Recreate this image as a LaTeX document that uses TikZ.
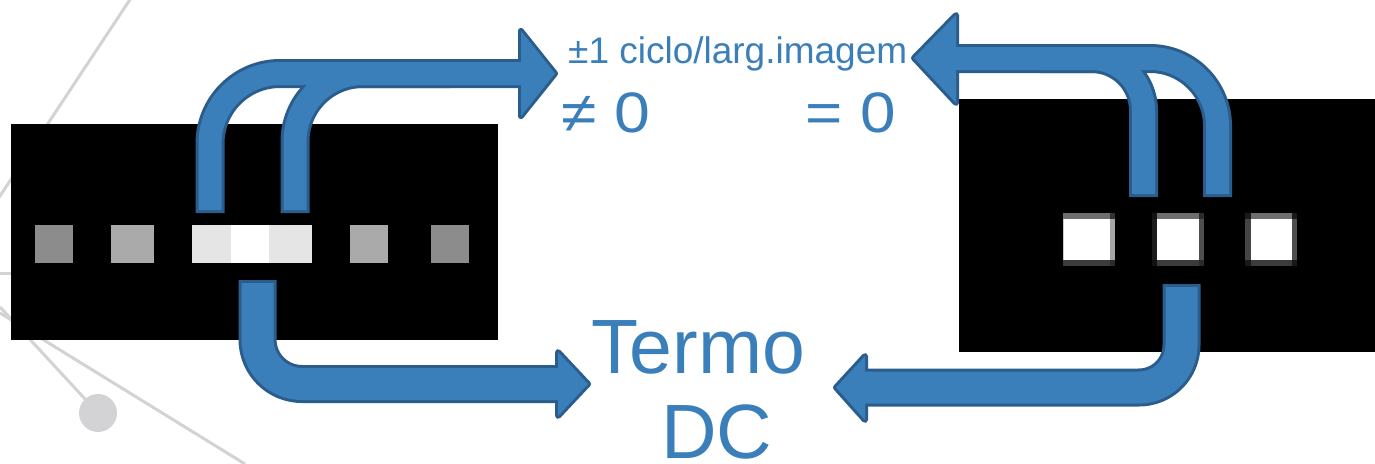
\documentclass[tikz,border=0pt]{standalone}
\usepackage{graphicx}
\usepackage{fontspec}
\setmainfont{Liberation Sans}
\definecolor{arrowfill}{HTML}{3A7EBA}
\definecolor{arrowline}{HTML}{2A5D8B}
\definecolor{deco}{HTML}{D3D3D5}
\definecolor{txtblue}{HTML}{3B7FBA}
\definecolor{gA}{HTML}{8C8C8C}
\definecolor{gB}{HTML}{AAAAAA}
\definecolor{gC}{HTML}{E5E5E5}
\tikzset{
  arrowedge/.style={draw=arrowline, line cap=butt, line join=round},
  arrowbody/.style={draw=arrowfill, line cap=butt, line join=round},
  decoline/.style={draw=deco, line width=3},
  lbl/.style={text=txtblue, inner sep=0pt, anchor=base west},
}
\begin{document}
\begin{tikzpicture}[x=1pt,y=-1pt]
\useasboundingbox (0,0) rectangle (1375,463);
\fill[white] (0,0) rectangle (1375,463);

% network decoration on the left
\draw[decoline] (131,-2) -- (-2,199);
\draw[decoline] (-2,273) -- (12,273);
\draw[decoline] (0,307) -- (98,413);
\draw[decoline] (0,313) -- (245,464);
\fill[deco] (98,413) circle[radius=19];

% left picture: row of grey squares
\fill[black] (11,124) rectangle (498,340);
\fill[gA] (35,225) rectangle (73,263);
\fill[gB] (111,225) rectangle (154,263);
\fill[gC] (192,225) rectangle (231,263);
\fill[white] (231,225) rectangle (269,263);
\fill[gC] (269,225) rectangle (312,263);
\fill[gB] (350,225) rectangle (388,263);
\fill[gA] (431,225) rectangle (469,263);

% right picture: three white squares with soft edges
\fill[black] (959,99) rectangle (1375,352);
% square 1
\fill[black!20!white] (1063,213) rectangle (1115,266);
\fill[white] (1064,219) rectangle (1110,260);
\fill[black!57] (1063,213) rectangle (1110,219);
\fill[black!77] (1063,260) rectangle (1110,266);
\fill[black!35] (1110,219) rectangle (1115,260);
\fill[black!80] (1110,213) rectangle (1115,219);
\fill[black!83] (1110,260) rectangle (1115,266);
% square 2
\fill[white] (1157,219) rectangle (1199,260);
\fill[black!57] (1157,213) rectangle (1199,219);
\fill[black!77] (1157,260) rectangle (1199,266);
\fill[black!89] (1152,219) rectangle (1157,260);
\fill[black!69] (1199,219) rectangle (1204,260);
\fill[black!93] (1152,213) rectangle (1157,219);
\fill[black!93] (1152,260) rectangle (1157,266);
\fill[black!83] (1199,213) rectangle (1204,219);
\fill[black!83] (1199,260) rectangle (1204,266);
% square 3
\fill[white] (1251,219) rectangle (1292,260);
\fill[black!57] (1251,213) rectangle (1292,219);
\fill[black!77] (1251,260) rectangle (1292,266);
\fill[black!73] (1245,219) rectangle (1251,260);
\fill[black!69] (1292,219) rectangle (1297,260);
\fill[black!90] (1245,213) rectangle (1251,219);
\fill[black!90] (1245,260) rectangle (1251,266);
\fill[black!90] (1292,213) rectangle (1297,219);
\fill[black!90] (1292,260) rectangle (1297,266);

% ---- arrows: dark outline pass, then blue body pass ----
% top left (two legs joining one arrow to the right)
\draw[arrowedge, line width=29, rounded corners=70] (210,213) -- (210,73.5) -- (525,73.5);
\draw[arrowedge, line width=29, rounded corners=68] (295,213) -- (295,73.5) -- (450,73.5);
\filldraw[arrowedge, fill=arrowline, line width=6] (521,31) -- (555,73.5) -- (521,116) -- cycle;
% top right (two legs joining one arrow to the left)
\draw[arrowedge, line width=29, rounded corners=67.5] (1217.5,197) -- (1217.5,58.5) -- (952,58.5);
\draw[arrowedge, line width=29, rounded corners=52] (1143.5,197) -- (1143.5,58.5) -- (1040,58.5);
\filldraw[arrowedge, fill=arrowline, line width=6] (956,15) -- (914,58) -- (956,103) -- cycle;
% bottom left
\draw[arrowedge, line width=38, rounded corners=44.5] (257.5,280) -- (257.5,384) -- (560,384);
\filldraw[arrowedge, fill=arrowline, line width=6] (558,352) -- (588,384) -- (558,416) -- cycle;
% bottom right
\draw[arrowedge, line width=38, rounded corners=42.5] (1181.5,284) -- (1181.5,387.5) -- (863,387.5);
\filldraw[arrowedge, fill=arrowline, line width=6] (865,356) -- (836,387.5) -- (865,420) -- cycle;

\draw[arrowbody, line width=23, rounded corners=70] (210,210) -- (210,73.5) -- (525,73.5);
\draw[arrowbody, line width=23, rounded corners=68] (295,210) -- (295,73.5) -- (450,73.5);
\fill[arrowfill] (521,31) -- (555,73.5) -- (521,116) -- cycle;
\draw[arrowbody, line width=23, rounded corners=67.5] (1217.5,194) -- (1217.5,58.5) -- (952,58.5);
\draw[arrowbody, line width=23, rounded corners=52] (1143.5,194) -- (1143.5,58.5) -- (1040,58.5);
\fill[arrowfill] (956,15) -- (914,58) -- (956,103) -- cycle;
\draw[arrowbody, line width=32, rounded corners=44.5] (257.5,283) -- (257.5,384) -- (560,384);
\fill[arrowfill] (558,352) -- (588,384) -- (558,416) -- cycle;
\draw[arrowbody, line width=32, rounded corners=42.5] (1181.5,287) -- (1181.5,387.5) -- (863,387.5);
\fill[arrowfill] (865,356) -- (836,387.5) -- (865,420) -- cycle;

% labels
\node[lbl, font=\fontsize{37}{40}\selectfont] (ciclo) at (568,63) {±1 ciclo/larg.imagem};
\node[lbl, font=\fontsize{57}{60}\selectfont] (neq) at (561,132) {\scalebox{1.13}[1]{≠ 0}};
\node[lbl, font=\fontsize{57}{60}\selectfont] (eq) at (805,132) {\scalebox{1.12}[1]{= 0}};
\node[lbl, font=\fontsize{77}{80}\selectfont] (termo) at (591,373) {Termo};
\node[lbl, font=\fontsize{77}{80}\selectfont] (dc) at (661,458) {DC};
\end{tikzpicture}
\end{document}
